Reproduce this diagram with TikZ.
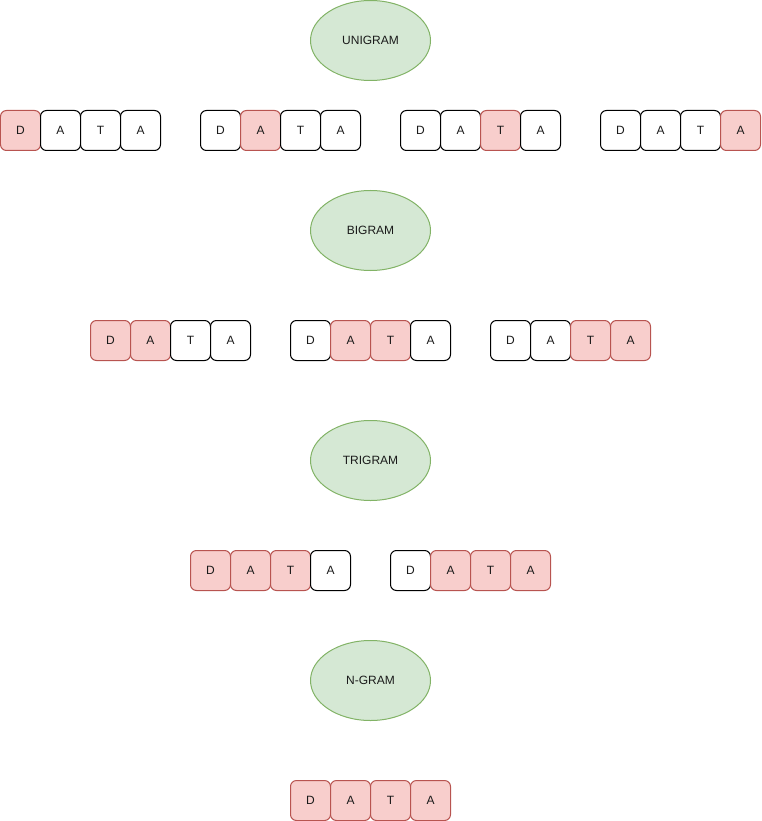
\documentclass[tikz,border=0pt]{standalone}
\usepackage{fontspec}
\setmainfont{Liberation Sans}
\usetikzlibrary{shapes.geometric}

\definecolor{gramfill}{HTML}{D5E8D4}
\definecolor{gramline}{HTML}{82B366}
\definecolor{onfill}{HTML}{F8CECC}
\definecolor{online}{HTML}{B85450}
\definecolor{offfill}{HTML}{FFFFFF}
\definecolor{offline}{HTML}{000000}
\definecolor{txt}{HTML}{1A1A1A}

\begin{document}
\begin{tikzpicture}
        [x=1pt,y=-1pt,
        every node/.style={font=\fontsize{12}{14}\selectfont,text=txt,line width=1pt},
        gram/.style={ellipse,fill=gramfill,draw=gramline,minimum width=120pt,minimum height=80pt,inner sep=0pt},
        cell/.style={rectangle,rounded corners=6pt,minimum size=40pt,inner sep=0pt}]
        \useasboundingbox (-0.5,-0.5) rectangle (760.5,820.5);
        % n-gram headings
        \node[gram] (uni) at (370,40) {UNIGRAM};
        \node[gram] (bi) at (370,230) {BIGRAM};
        \node[gram] (tri) at (370,460) {TRIGRAM};
        \node[gram] (ngram) at (370,680) {N-GRAM};
        % words, one cell per letter
        \foreach \w/\x/\y/\a/\b/\c/\d in {
            u1/0/110/on/off/off/off, u2/200/110/off/on/off/off,
            u3/400/110/off/off/on/off, u4/600/110/off/off/off/on,
            b1/90/320/on/on/off/off, b2/290/320/off/on/on/off,
            b3/490/320/off/off/on/on,
            t1/190/550/on/on/on/off, t2/390/550/off/on/on/on,
            n1/290/780/on/on/on/on}
          \foreach \i/\l/\s in {0/D/\a,1/A/\b,2/T/\c,3/A/\d}
            \node[cell,fill=\s fill,draw=\s line] (\w-\i) at (\x+20+40*\i,\y+20) {\l};
\end{tikzpicture}
\end{document}
